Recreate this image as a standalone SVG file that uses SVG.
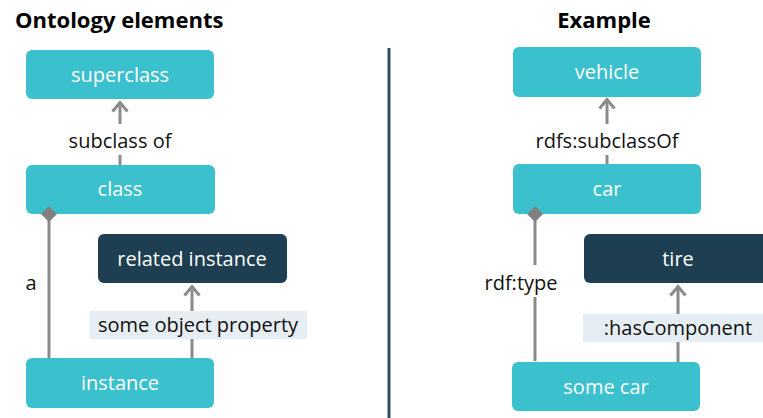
<svg xmlns="http://www.w3.org/2000/svg" width="763" height="418" viewBox="0 0 763 418">
  <style>
    .cls { fill: #3bc1cd; }
    .inst { fill: #1e3f52; }
    .nt { font-family: "Open Sans", "Noto Sans", sans-serif; font-size: 20px; fill: #ffffff; text-anchor: middle; }
    .lbl { font-family: "Open Sans", "Noto Sans", sans-serif; font-size: 20px; fill: #111111; text-anchor: middle; }
    .title { font-family: "Open Sans", "Noto Sans", sans-serif; font-size: 22px; font-weight: bold; fill: #000000; }
    .edge { stroke: #8a8a8a; stroke-width: 3; fill: none; }
    .lblbg { fill: #e6eef4; }
    .gap { fill: #ffffff; }
  </style>
  <defs>
    <!-- open chevron arrowhead, drawn pointing along +x -->
    <marker id="arrow" viewBox="0 0 14 18" refX="12" refY="9" markerWidth="14" markerHeight="18" markerUnits="userSpaceOnUse" orient="auto">
      <path d="M2.5,1.5 L11.5,9 L2.5,16.5" fill="none" stroke="#8a8a8a" stroke-width="3" stroke-linejoin="miter"/>
    </marker>
  </defs>

  <!-- headings -->
  <text class="title" x="15" y="28">Ontology elements</text>
  <text class="title" x="604" y="28" text-anchor="middle">Example</text>

  <!-- divider between the two panels -->
  <line x1="389" y1="48" x2="389" y2="418" stroke="#2d4e63" stroke-width="3"/>

  <!-- connectors -->
  <g id="connectors">
    <!-- left: subclass of -->
    <line class="edge" x1="120" y1="165" x2="120" y2="102" marker-end="url(#arrow)"/>
    <rect class="gap" x="62" y="124" width="118" height="31"/>
    <text class="lbl" x="120" y="148">subclass of</text>

    <!-- left: a (type) -->
    <line class="edge" x1="49" y1="358" x2="49" y2="214"/>
    <text class="lbl" x="31" y="290">a</text>

    <!-- left: some object property -->
    <line class="edge" x1="192" y1="358" x2="192" y2="286" marker-end="url(#arrow)"/>
    <rect class="lblbg" x="90" y="311" width="217" height="28"/>
    <text class="lbl" x="198" y="332">some object property</text>

    <!-- right: rdfs:subclassOf -->
    <line class="edge" x1="607" y1="164" x2="607" y2="99" marker-end="url(#arrow)"/>
    <rect class="gap" x="526" y="124" width="162" height="31"/>
    <text class="lbl" x="607" y="148">rdfs:subclassOf</text>

    <!-- right: rdf:type -->
    <line class="edge" x1="535" y1="361" x2="535" y2="214"/>
    <rect class="gap" x="480" y="265" width="82" height="32"/>
    <text class="lbl" x="521" y="290">rdf:type</text>

    <!-- right: :hasComponent -->
    <line class="edge" x1="678" y1="362" x2="678" y2="286" marker-end="url(#arrow)"/>
    <rect class="lblbg" x="583" y="314" width="180" height="28"/>
    <text class="lbl" x="678" y="335">:hasComponent</text>
  </g>

  <!-- left panel nodes -->
  <g id="superclass">
    <rect class="cls" x="26" y="50" width="188" height="49" rx="6"/>
    <text class="nt" x="120" y="82">superclass</text>
  </g>
  <g id="class">
    <rect class="cls" x="26" y="165" width="189" height="49" rx="6"/>
    <text class="nt" x="120" y="196">class</text>
  </g>
  <g id="related-instance">
    <rect class="inst" x="98" y="234" width="189" height="49" rx="6"/>
    <text class="nt" x="192" y="266">related instance</text>
  </g>
  <g id="instance">
    <rect class="cls" x="26" y="358" width="188" height="50" rx="6"/>
    <text class="nt" x="120" y="390">instance</text>
  </g>

  <!-- right panel nodes -->
  <g id="vehicle">
    <rect class="cls" x="513" y="47" width="188" height="50" rx="6"/>
    <text class="nt" x="607" y="79">vehicle</text>
  </g>
  <g id="car">
    <rect class="cls" x="513" y="164" width="188" height="50" rx="6"/>
    <text class="nt" x="607" y="196">car</text>
  </g>
  <g id="tire">
    <rect class="inst" x="584" y="234" width="188" height="49" rx="6"/>
    <text class="nt" x="678" y="266">tire</text>
  </g>
  <g id="some-car">
    <rect class="cls" x="512" y="362" width="188" height="49" rx="6"/>
    <text class="nt" x="606" y="394">some car</text>
  </g>

  <!-- diamond ends of the type links, on top of the class boxes -->
  <path d="M49,206 L57,214 L49,222 L41,214 Z" fill="#808080"/>
  <path d="M535,206 L543,214 L535,222 L527,214 Z" fill="#808080"/>
</svg>
